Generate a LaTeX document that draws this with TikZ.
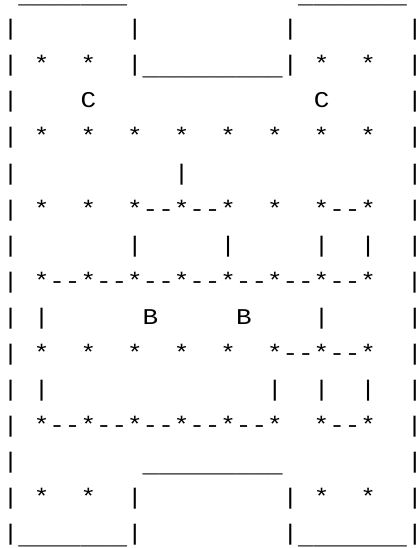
\documentclass[tikz,border=0pt]{standalone}
\usepackage{fontspec}
\setmonofont[FakeStretch=1.15]{Liberation Mono}
\usepackage{tikz}
% underscore sits lower in the original font
\newcommand{\lowbar}{\raisebox{-4pt}{\_}}

\begin{document}
\begin{tikzpicture}[
    x=1pt, y=1pt,
    asciirow/.style={
        anchor=base west,
        inner sep=0pt,
        outer sep=0pt,
        font=\ttfamily\fontsize{22.53pt}{36pt}\selectfont
    }
]
\useasboundingbox (0,0) rectangle (417,-548);

\node[asciirow] (row0)  at (2.8,0)    {~\lowbar\lowbar\lowbar\lowbar\lowbar\lowbar\lowbar~~~~~~~~~~~\lowbar\lowbar\lowbar\lowbar\lowbar\lowbar\lowbar};
\node[asciirow] (row1)  at (2.8,-36)  {|~~~~~~~|~~~~~~~~~|~~~~~~~|};
\node[asciirow] (row2)  at (2.8,-72)  {|~*~~*~~|\lowbar\lowbar\lowbar\lowbar\lowbar\lowbar\lowbar\lowbar\lowbar|~*~~*~~|};
\node[asciirow] (row3)  at (2.8,-108) {|~~~~C~~~~~~~~~~~~~~C~~~~~|};
\node[asciirow] (row4)  at (2.8,-144) {|~*~~*~~*~~*~~*~~*~~*~~*~~|};
\node[asciirow] (row5)  at (2.8,-180) {|~~~~~~~~~~|~~~~~~~~~~~~~~|};
\node[asciirow] (row6)  at (2.8,-216) {|~*~~*~~*--*--*~~*~~*--*~~|};
\node[asciirow] (row7)  at (2.8,-252) {|~~~~~~~|~~~~~|~~~~~|~~|~~|};
\node[asciirow] (row8)  at (2.8,-288) {|~*--*--*--*--*--*--*--*~~|};
\node[asciirow] (row9)  at (2.8,-324) {|~|~~~~~~B~~~~~B~~~~|~~~~~|};
\node[asciirow] (row10) at (2.8,-360) {|~*~~*~~*~~*~~*~~*--*--*~~|};
\node[asciirow] (row11) at (2.8,-396) {|~|~~~~~~~~~~~~~~|~~|~~|~~|};
\node[asciirow] (row12) at (2.8,-432) {|~*--*--*--*--*--*~~*--*~~|};
\node[asciirow] (row13) at (2.8,-468) {|~~~~~~~~\lowbar\lowbar\lowbar\lowbar\lowbar\lowbar\lowbar\lowbar\lowbar~~~~~~~~|};
\node[asciirow] (row14) at (2.8,-504) {|~*~~*~~|~~~~~~~~~|~*~~*~~|};
\node[asciirow] (row15) at (2.8,-540) {|\lowbar\lowbar\lowbar\lowbar\lowbar\lowbar\lowbar|~~~~~~~~~|\lowbar\lowbar\lowbar\lowbar\lowbar\lowbar\lowbar|};

\end{tikzpicture}
\end{document}
